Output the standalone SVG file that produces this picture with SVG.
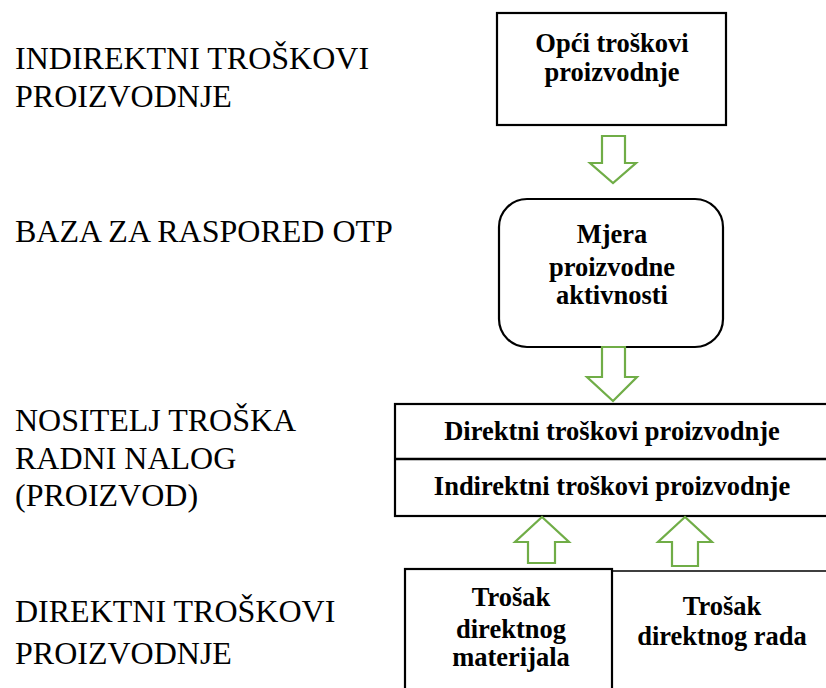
<svg xmlns="http://www.w3.org/2000/svg" width="826" height="688" viewBox="0 0 826 688">
<style>
.lbl{font-family:"Liberation Serif","Times New Roman",serif;font-size:32px;fill:#000}
.bt{font-family:"Liberation Serif","Times New Roman",serif;font-size:26.5px;font-weight:bold;fill:#000;text-anchor:middle}
.box{fill:#fff;stroke:#000;stroke-width:2.2}
.arr{fill:#fff;stroke:#70AD47;stroke-width:2.2;stroke-linejoin:miter}
</style>
<rect width="826" height="688" fill="#fff"/>
<g id="labels">
<text class="lbl" x="15" y="69">INDIREKTNI TROŠKOVI</text>
<text class="lbl" x="15" y="107">PROIZVODNJE</text>
<text class="lbl" x="15" y="242">BAZA ZA RASPORED OTP</text>
<text class="lbl" x="15" y="431">NOSITELJ TROŠKA</text>
<text class="lbl" x="15" y="469">RADNI NALOG</text>
<text class="lbl" x="15" y="506">(PROIZVOD)</text>
<text class="lbl" x="15" y="622">DIREKTNI TROŠKOVI</text>
<text class="lbl" x="15" y="664">PROIZVODNJE</text>
</g>
<g id="node-opci">
<rect class="box" x="497" y="13" width="229" height="112"/>
<text class="bt" x="612" y="52">Opći troškovi</text>
<text class="bt" x="612" y="81">proizvodnje</text>
</g>
<g id="node-mjera">
<rect class="box" x="499" y="199" width="224" height="148" rx="28" ry="28"/>
<text class="bt" x="612" y="243">Mjera</text>
<text class="bt" x="612" y="276">proizvodne</text>
<text class="bt" x="612" y="304">aktivnosti</text>
</g>
<g id="node-nositelj">
<rect class="box" x="395" y="404" width="440" height="112" stroke-width="2.6"/>
<line x1="395" y1="459" x2="826" y2="459" stroke="#000" stroke-width="2.6"/>
<text class="bt" x="612" y="440">Direktni troškovi proizvodnje</text>
<text class="bt" x="612" y="495">Indirektni troškovi proizvodnje</text>
</g>
<g id="node-materijal">
<rect class="box" x="405" y="569" width="207" height="130"/>
<text class="bt" x="511" y="606">Trošak</text>
<text class="bt" x="511" y="638">direktnog</text>
<text class="bt" x="511" y="666">materijala</text>
</g>
<g id="node-rad">
<path d="M612 571 H830 M612 571 V690" fill="none" stroke="#000" stroke-width="1.6"/>
<text class="bt" x="722" y="615">Trošak</text>
<text class="bt" x="722" y="645">direktnog rada</text>
</g>
<g id="connectors">
<polygon class="arr" points="602,136 625,136 625,163 636,163 613,183 590,163 602,163"/>
<polygon class="arr" points="602,347 625,347 625,377 637,377 613,401 587,377 602,377"/>
<polygon class="arr" points="528,563 555,563 555,542 569,542 542,517 515,542 528,542"/>
<polygon class="arr" points="672,566 698,566 698,542 712,542 685,517 658,542 672,542"/>
</g>
</svg>
